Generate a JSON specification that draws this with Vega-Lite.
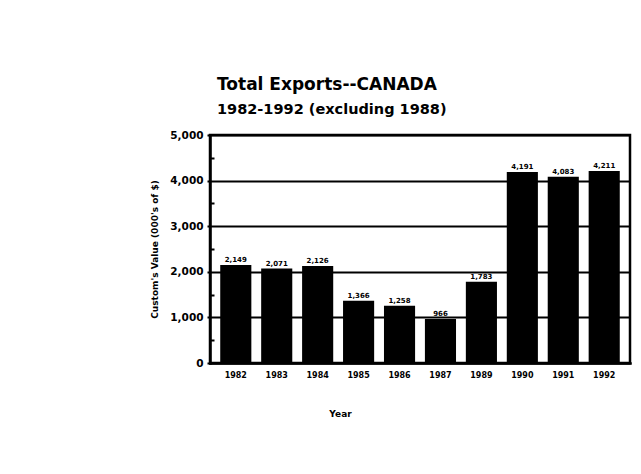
{
  "$schema": "https://vega.github.io/schema/vega-lite/v6.json",
  "width": 420,
  "height": 228,
  "autosize": {"type": "none"},
  "padding": {"left": 210, "top": 135, "right": 11, "bottom": 111},
  "background": "white",
  "title": {
    "text": "Total Exports--CANADA",
    "subtitle": "1982-1992  (excluding 1988)",
    "anchor": "start",
    "frame": "group",
    "dx": 7,
    "offset": 13,
    "font": "DejaVu Sans",
    "fontSize": 17,
    "fontWeight": "bold",
    "color": "#000",
    "subtitleFont": "DejaVu Sans",
    "subtitleFontSize": 14.5,
    "subtitleFontWeight": "bold",
    "subtitleColor": "#000",
    "subtitlePadding": 9
  },
  "data": {
    "values": [
      {"year": "1982", "value": 2149},
      {"year": "1983", "value": 2071},
      {"year": "1984", "value": 2126},
      {"year": "1985", "value": 1366},
      {"year": "1986", "value": 1258},
      {"year": "1987", "value": 966},
      {"year": "1989", "value": 1783},
      {"year": "1990", "value": 4191},
      {"year": "1991", "value": 4083},
      {"year": "1992", "value": 4211}
    ]
  },
  "encoding": {
    "x": {
      "field": "year",
      "type": "ordinal",
      "scale": {"paddingInner": 0.24, "paddingOuter": 0.25},
      "axis": {
        "title": "Year",
        "titleX": 130,
        "titlePadding": 30,
        "titleFont": "DejaVu Sans",
        "titleFontSize": 9,
        "titleFontWeight": "bold",
        "titleColor": "#000",
        "labelAngle": 0,
        "labelFont": "DejaVu Sans",
        "labelFontSize": 8,
        "labelFontWeight": "bold",
        "labelColor": "#000",
        "labelPadding": 8,
        "ticks": false,
        "domainColor": "#000",
        "domainWidth": 2.5
      }
    },
    "y": {
      "field": "value",
      "type": "quantitative",
      "scale": {"domain": [0, 5000], "nice": false},
      "axis": {
        "title": "Custom's Value (000's of $)",
        "titleFont": "DejaVu Sans",
        "titleFontSize": 9,
        "titleFontWeight": "bold",
        "titleColor": "#000",
        "titlePadding": 10,
        "values": [0, 500, 1000, 1500, 2000, 2500, 3000, 3500, 4000, 4500, 5000],
        "labelExpr": "datum.value % 1000 === 0 ? format(datum.value, ',') : ''",
        "labelFont": "DejaVu Sans",
        "labelFontSize": 10.5,
        "labelFontWeight": "bold",
        "labelColor": "#000",
        "labelPadding": 4,
        "grid": true,
        "gridColor": "#000",
        "gridWidth": 2,
        "gridOpacity": {"condition": {"test": "datum.value % 1000 === 0", "value": 1}, "value": 0},
        "tickColor": "#000",
        "tickWidth": 2,
        "tickSize": {"condition": {"test": "datum.value % 1000 === 0", "value": 3}, "value": -4},
        "domainColor": "#000",
        "domainWidth": 2.5
      }
    }
  },
  "layer": [
    {"mark": {"type": "bar", "color": "#000"}},
    {
      "mark": {"type": "text", "baseline": "bottom", "dy": -2, "font": "DejaVu Sans", "fontSize": 7, "fontWeight": "bold", "color": "#000"},
      "encoding": {"text": {"field": "value", "type": "quantitative", "format": ","}}
    }
  ],
  "config": {
    "view": {"stroke": "#000", "strokeWidth": 2.5},
    "axis": {"domainCap": "square"}
  }
}
